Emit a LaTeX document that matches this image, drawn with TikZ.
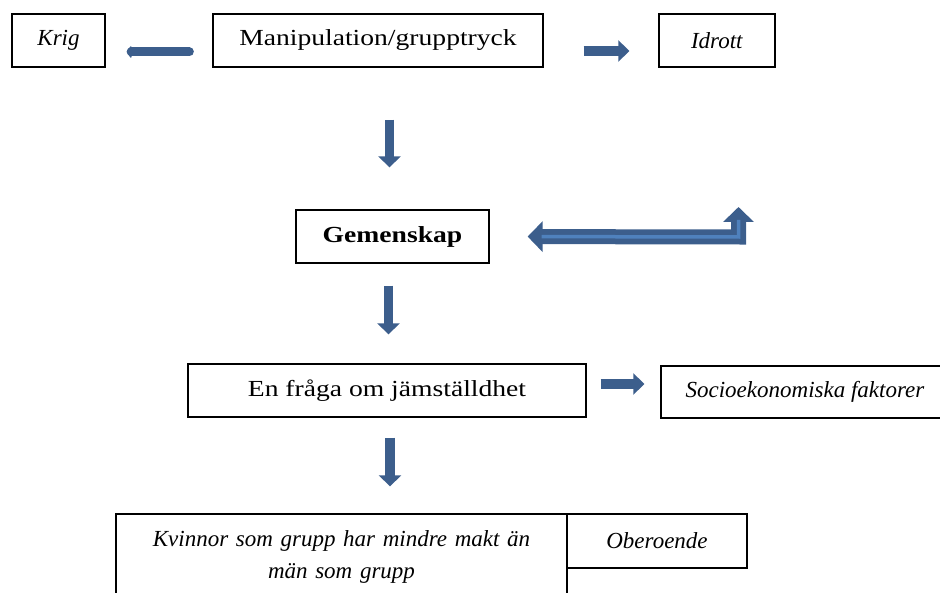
\documentclass[tikz,border=0pt]{standalone}
\usepackage{fontspec}
\setmainfont{Liberation Serif}
\newfontfamily\widefont{Liberation Serif}[FakeStretch=1.2]
\usetikzlibrary{arrows.meta,positioning}
\definecolor{arrowblue}{RGB}{60,94,140}
\definecolor{lightblue}{RGB}{79,129,189}

\begin{document}
\begin{tikzpicture}[x=1pt,y=-1pt]
		\tikzstyle{Box} 	= [rectangle, draw, line width=1.3pt, inner sep=2pt, font=\fontsize{23}{32}\selectfont]
		\tikzstyle{Wide}	= [font=\fontsize{23}{32}\widefont]
		\tikzstyle{Down}	= [arrowblue, line width=9.5pt, -{Triangle[length=11pt,width=22pt]}]
		\tikzstyle{Right}	= [arrowblue, line width=10pt, -{Triangle[length=11pt,width=21pt]}]
		\tikzstyle{Back}	= [arrowblue, line width=9pt, line cap=round, -{Triangle[length=5pt,width=14pt,round]}]

		\useasboundingbox (0,0) rectangle (940,593);
		\clip (0,0) rectangle (940,593);

		\node (krig) at (58.5, 40.5) [Box, minimum width=93pt, minimum height=53pt] {\textit{Krig}};
		\node (manip) at (378, 40.5) [Box, Wide, minimum width=330pt, minimum height=53pt] {Manipulation/grupptryck};
		\node (idrott) at (717, 40.5) [Box, minimum width=116pt, minimum height=53pt] {\textit{Idrott}};
		\node (gem) at (392.5, 236.5) [Box, Wide, minimum width=193pt, minimum height=53pt] {\textbf{Gemenskap}};
		\node (fraga) at (387, 390.5) [Box, Wide, minimum width=398pt, minimum height=53pt] {En fråga om jämställdhet};
		\node (socio) at (805, 392) [Box, minimum width=288pt, minimum height=52pt] {\textit{Socioekonomiska faktorer}};
		\node (kvinnor) at (341.5, 557) [Box, minimum width=451pt, minimum height=86pt, text width=420pt, align=center]
			{\textit{Kvinnor som grupp har mindre makt än\\män som grupp}};
		\node (ober) at (657, 541) [Box, minimum width=180pt, minimum height=54pt] {\textit{Oberoende}};
		\coordinate (loop) at (738.5, 237);

		\draw [Back, shorten <=23pt, shorten >=21pt] ([yshift=-11.5pt]manip.west) to ([yshift=-11.5pt]krig.east);
		\draw [Right, shorten <=40pt, shorten >=29pt] ([yshift=-10.5pt]manip.east) to ([yshift=-10.5pt]idrott.west);
		\draw [Down, shorten <=52pt, shorten >=42pt] ([xshift=-3pt]gem.north |- manip.south) to ([xshift=-3pt]gem.north);
		\draw [Down, shorten <=22pt, shorten >=29pt] ([xshift=-4pt]gem.south) to ([xshift=-4pt]gem.south |- fraga.north);
		\draw [Down, shorten <=20pt, shorten >=27pt] ([xshift=3pt]fraga.south) to ([xshift=3pt]fraga.south |- kvinnor.north);
		\draw [Right, shorten <=14pt, shorten >=16pt] ([yshift=6.5pt]fraga.east) to ([yshift=8pt]socio.west);

		% bent double arrow
		\draw [arrowblue, line width=15pt, {Triangle[length=15pt,width=30pt]}-{Triangle[length=15pt,width=30pt]}, shorten <=38pt, shorten >=3pt]
			(gem.east) -- (loop) -- ++(0,-33);
		\draw [lightblue, line width=3.5pt, shorten <=52pt, shorten >=16pt] (gem.east) -- (loop) -- ++(0,-33);
	\end{tikzpicture}
\end{document}
